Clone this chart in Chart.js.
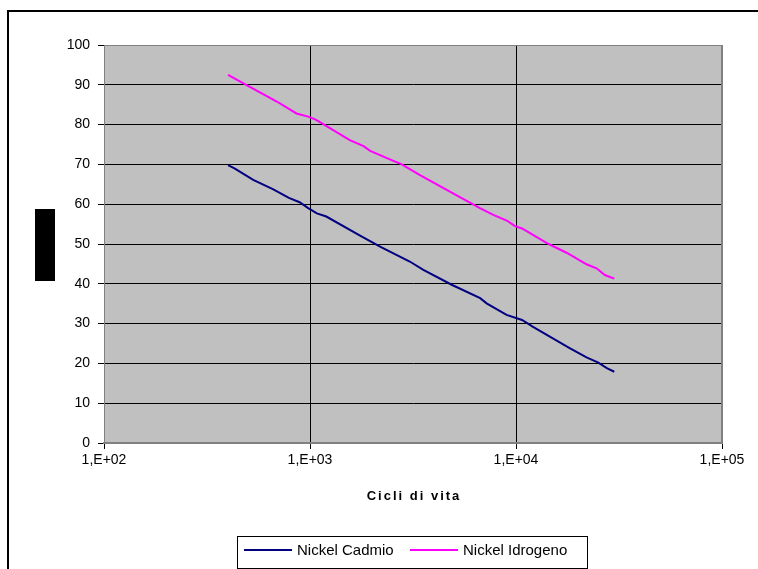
<!DOCTYPE html>
<html>
<head>
<meta charset="utf-8">
<script src="https://cdn.jsdelivr.net/npm/chart.js@4/dist/chart.umd.min.js"></script>
<style>
  html, body { margin: 0; padding: 0; background: #fff; }
  #wrap { width: 758px; height: 569px; position: relative; }
</style>
</head>
<body>
<div id="wrap"><canvas id="chart" width="758" height="569"></canvas></div>
<script>
// Nickel Cadmio
const cadmioCycles = [400, 430, 530, 660, 790, 890, 980, 1080, 1200, 1750, 2200, 3050, 3550, 4900, 6700, 7200, 9000, 10700, 12100, 18300, 22000, 25100, 27600, 30000];
const cadmioValues = [69.8, 69.0, 66.1, 63.8, 61.6, 60.5, 59.0, 57.7, 56.9, 52.1, 49.3, 45.6, 43.5, 39.7, 36.4, 35.1, 32.2, 30.9, 29.2, 23.8, 21.5, 20.2, 18.8, 17.9];

// Nickel Idrogeno
const idrogenoCycles = [400, 490, 690, 860, 980, 1060, 1160, 1560, 1820, 1960, 2540, 2790, 3420, 4610, 6680, 7760, 9020, 9890, 10700, 14400, 17600, 22000, 24600, 27000, 30000];
const idrogenoValues = [92.5, 90.0, 85.8, 82.8, 82.0, 81.3, 80.1, 76.1, 74.6, 73.4, 70.9, 70.0, 67.3, 63.6, 59.0, 57.3, 55.9, 54.5, 53.9, 50.0, 47.8, 44.9, 43.9, 42.2, 41.3];

const xTicks = [100, 1000, 10000, 100000];
const seriesLabels = ['Nickel Cadmio', 'Nickel Idrogeno'];
const xTitle = 'Cicli di vita';

function toPoints(xs, ys) {
  return xs.map((x, i) => ({ x: x, y: ys[i] }));
}

const FONT = "'Liberation Sans', Arial, sans-serif";

// sfondo, cornice esterna, area grigia, titolo asse x e legenda
const decor = {
  id: 'decor',
  beforeDraw(chart) {
    const ctx = chart.ctx;
    const a = chart.chartArea;
    ctx.save();
    ctx.fillStyle = '#fff';
    ctx.fillRect(0, 0, chart.width, chart.height);
    ctx.strokeStyle = '#000';
    ctx.lineWidth = 2;
    ctx.strokeRect(8, 11, 800, 600);
    ctx.fillStyle = '#c0c0c0';
    ctx.fillRect(a.left, a.top, a.right - a.left, a.bottom - a.top);
    ctx.fillStyle = '#000';
    ctx.fillRect(35, 209, 20, 72);
    ctx.restore();
  },
  afterDatasetsDraw(chart) {
    const ctx = chart.ctx;
    const a = chart.chartArea;
    ctx.save();
    ctx.strokeStyle = '#808080';
    ctx.lineWidth = 1;
    ctx.beginPath();
    ctx.moveTo(a.left, a.top + 0.5);
    ctx.lineTo(a.right - 0.5, a.top + 0.5);
    ctx.lineTo(a.right - 0.5, a.bottom);
    ctx.stroke();
    ctx.restore();
  },
  afterDraw(chart) {
    const ctx = chart.ctx;
    const a = chart.chartArea;
    ctx.save();
    // titolo asse x spaziato
    ctx.font = 'bold 13px ' + FONT;
    ctx.letterSpacing = '2px';
    ctx.textAlign = 'center';
    ctx.textBaseline = 'middle';
    ctx.fillStyle = '#000';
    ctx.fillText(xTitle, (a.left + a.right) / 2 + 1, 496);
    ctx.letterSpacing = '0px';
    ctx.textAlign = 'left';

    // legenda con bordo
    ctx.strokeStyle = '#000';
    ctx.lineWidth = 1;
    ctx.strokeRect(237.5, 536.5, 350, 32);
    ctx.font = '15px ' + FONT;
    const items = [{ x1: 244, x2: 292, tx: 297 }, { x1: 410, x2: 458, tx: 463 }];
    chart.data.datasets.forEach((ds, i) => {
      const it = items[i];
      ctx.strokeStyle = ds.borderColor;
      ctx.lineWidth = 2;
      ctx.beginPath();
      ctx.moveTo(it.x1, 550);
      ctx.lineTo(it.x2, 550);
      ctx.stroke();
      ctx.fillText(ds.label, it.tx, 551);
    });
    ctx.restore();
  }
};

const ctx = document.getElementById('chart').getContext('2d');
new Chart(ctx, {
  type: 'line',
  data: {
    datasets: [{
      label: seriesLabels[0],
      data: toPoints(cadmioCycles, cadmioValues),
      borderColor: '#000080',
      borderWidth: 2,
      pointRadius: 0,
      tension: 0
    }, {
      label: seriesLabels[1],
      data: toPoints(idrogenoCycles, idrogenoValues),
      borderColor: '#ff00ff',
      borderWidth: 2,
      pointRadius: 0,
      tension: 0
    }]
  },
  options: {
    responsive: false,
    animation: false,
    layout: { padding: { left: 0, right: 36, top: 45, bottom: 0 } },
    plugins: {
      legend: { display: false },
      tooltip: { enabled: false }
    },
    scales: {
      x: {
        type: 'logarithmic',
        min: 100,
        max: 100000,
        afterBuildTicks: (scale) => { scale.ticks = xTicks.map(v => ({ value: v })); },
        afterFit: (scale) => { scale.height = 126; },
        ticks: {
          autoSkip: false,
          maxRotation: 0,
          padding: 3,
          color: '#000',
          font: { family: FONT, size: 14 },
          callback: (v) => '1,E+0' + Math.round(Math.log10(v))
        },
        grid: {
          color: (c) => (c.index === 0 || c.index === xTicks.length - 1) ? '#808080' : '#000',
          tickColor: '#000',
          tickLength: 6,
          lineWidth: 1
        },
        border: { color: '#808080', width: 2 }
      },
      y: {
        min: 0,
        max: 100,
        afterFit: (scale) => { scale.width = 104; },
        ticks: {
          stepSize: 10,
          padding: 8,
          color: '#000',
          font: { family: FONT, size: 14 }
        },
        grid: {
          color: (c) => (c.tick.value === 0 || c.tick.value === 100) ? '#808080' : '#000',
          tickColor: '#000',
          tickLength: 6,
          lineWidth: 1
        },
        border: { color: '#808080', width: 1 }
      }
    }
  },
  plugins: [decor]
});
</script>
</body>
</html>
